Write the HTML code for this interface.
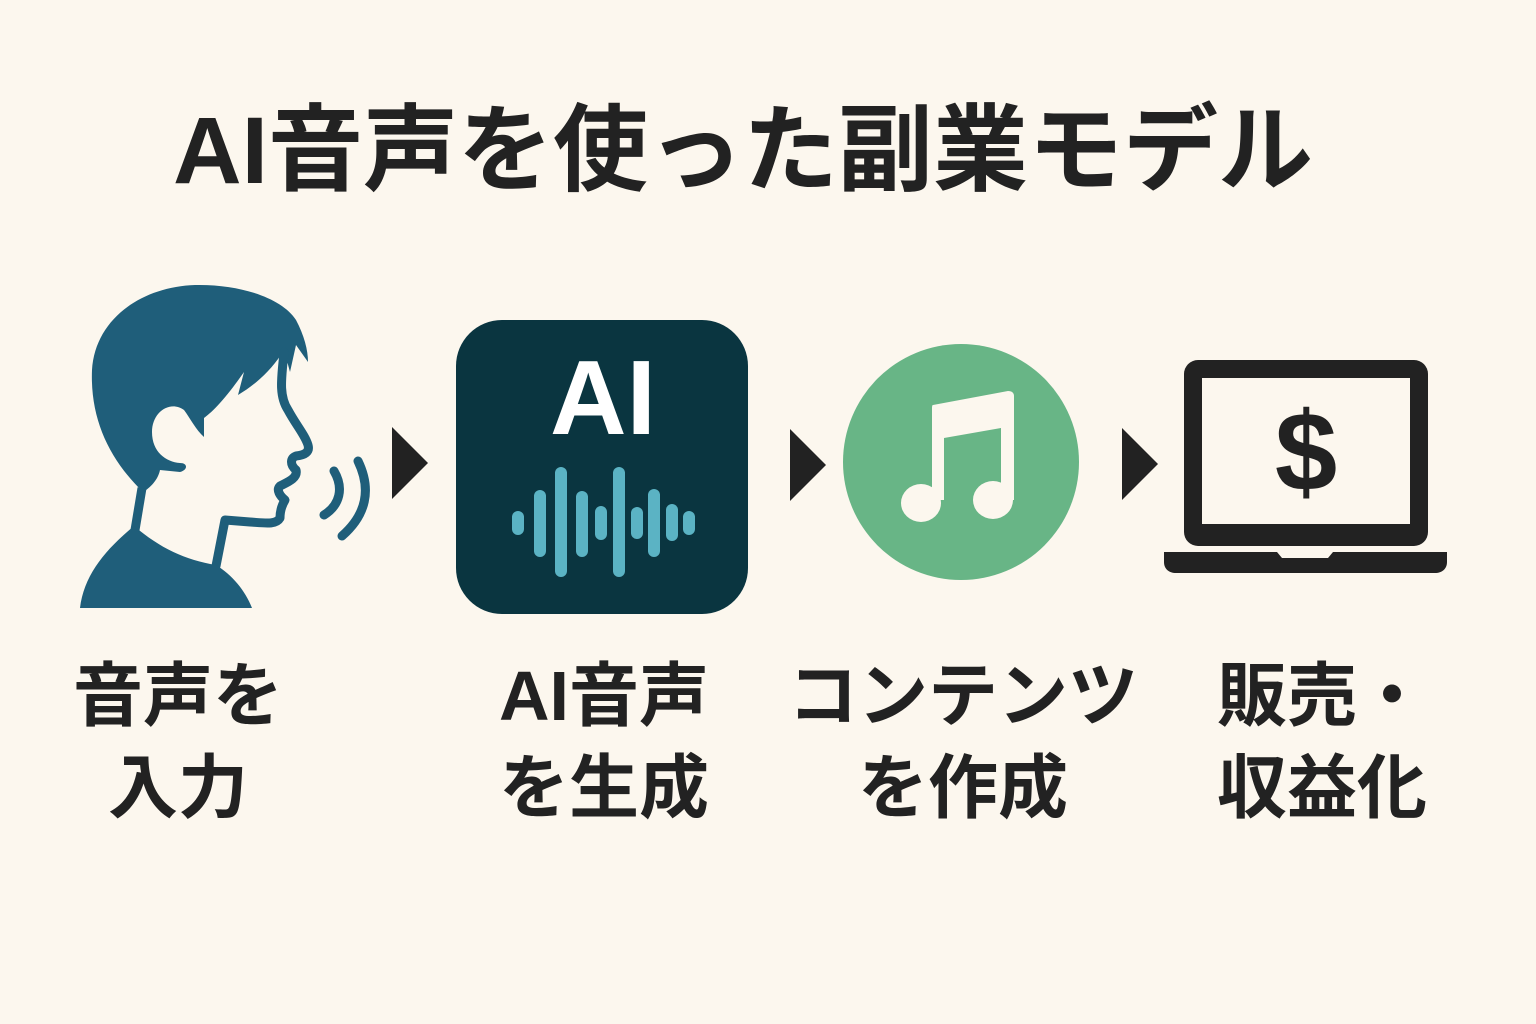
<!DOCTYPE html>
<html><head><meta charset="utf-8"><style>
html,body{margin:0;padding:0;}
body{width:1536px;height:1024px;background:#fcf7ee;position:relative;overflow:hidden;font-family:"Liberation Sans","Noto Sans CJK JP",sans-serif;color:#222;}
.t{position:absolute;font-weight:700;white-space:nowrap;}
.title{left:0;width:1486px;text-align:center;top:96px;font-size:95px;line-height:110px;}
.lab{font-size:70px;line-height:92px;text-align:center;width:400px;top:650px;}
</style></head><body>
<div class="t title">AI音声を使った副業モデル</div>
<svg width="1536" height="1024" style="position:absolute;left:0;top:0">
  <path fill="#1f5e7a" d="M143,492 C110,460 90,420 92,370 C95,320 140,287 195,285 C240,284 282,298 296,320 C304,335 308,350 308,362 L296,345 L290,372 L284,350 C272,370 255,385 238,395 L244,372 C228,395 215,410 204,418 L204,437 C196,430 190,418 184,410 C170,400 152,412 152,432 C152,452 166,462 180,463 C188,463 188,470 180,472 L160,470 C158,480 150,488 143,492 Z"/>
  <path fill="none" stroke="#1f5e7a" stroke-width="9" stroke-linecap="round" stroke-linejoin="round" d="M284,352 C282,375 278,395 288,410 C296,425 305,435 308,445 C310,452 305,455 296,456 C290,458 290,465 296,470 C298,478 288,482 280,486 C276,490 280,496 285,500 C282,505 280,510 280,518 C276,525 265,523 250,522 L225,520 L216,566"/>
  <path fill="none" stroke="#1f5e7a" stroke-width="9" d="M142,488 L135,530"/>
  <path fill="#1f5e7a" d="M80,608 C84,575 105,550 134,526 C160,548 185,560 216,565 C232,575 245,590 252,608 Z"/>
  <path fill="none" stroke="#1f5e7a" stroke-width="9" stroke-linecap="round" d="M334,471 C344,488 340,505 324,515"/>
  <path fill="none" stroke="#1f5e7a" stroke-width="9" stroke-linecap="round" d="M358,461 C372,490 366,515 342,536"/>
  <path fill="#222" d="M392,427 L428,463 L392,499 Z"/>
  <path fill="#222" d="M790,429 L826,465 L790,501 Z"/>
  <path fill="#222" d="M1122,428 L1158,464 L1122,500 Z"/>
  <rect x="456" y="320" width="292" height="294" rx="46" fill="#0a3540"/>
  <text x="603" y="434" text-anchor="middle" font-family="Liberation Sans" font-weight="700" font-size="106" fill="#fff">AI</text>
  <g stroke="#5bb3c4" stroke-width="12" stroke-linecap="round">
    <line x1="518" y1="517" x2="518" y2="529"/>
    <line x1="540" y1="496" x2="540" y2="551"/>
    <line x1="561" y1="473" x2="561" y2="571"/>
    <line x1="582" y1="497" x2="582" y2="551"/>
    <line x1="601" y1="512" x2="601" y2="534"/>
    <line x1="619" y1="473" x2="619" y2="571"/>
    <line x1="637" y1="513" x2="637" y2="533"/>
    <line x1="654" y1="495" x2="654" y2="551"/>
    <line x1="672" y1="510" x2="672" y2="535"/>
    <line x1="689" y1="517" x2="689" y2="529"/>
  </g>
  <circle cx="961" cy="462" r="118" fill="#68b586"/>
  <g fill="#fcf7ee">
    <path d="M933,405 L1008,391 C1012,391 1014,393 1014,396 L1014,500 L1001,500 L1001,428 L944,438 L944,500 L932,500 L932,410 C932,407 932,405 933,405 Z"/>
    <ellipse cx="921" cy="503" rx="20" ry="19"/>
    <ellipse cx="993" cy="500" rx="20" ry="19"/>
  </g>
  <rect x="1184" y="360" width="244" height="186" rx="14" fill="#222"/>
  <rect x="1202" y="378" width="208" height="146" fill="#fcf7ee"/>
  <path fill="#222" d="M1164,552 L1277,552 L1282,558 L1328,558 L1333,552 L1447,552 L1447,562 C1447,569 1442,573 1435,573 L1176,573 C1169,573 1164,569 1164,562 Z"/>
  <text x="1306" y="490" text-anchor="middle" font-family="Liberation Sans" font-weight="700" font-size="112" fill="#222">$</text>
</svg>
<div class="t lab" style="left:-22px">音声を<br>入力</div>
<div class="t lab" style="left:404px">AI音声<br>を生成</div>
<div class="t lab" style="left:763px">コンテンツ<br>を作成</div>
<div class="t lab" style="left:1122px">販売・<br>収益化</div>
</body></html>
